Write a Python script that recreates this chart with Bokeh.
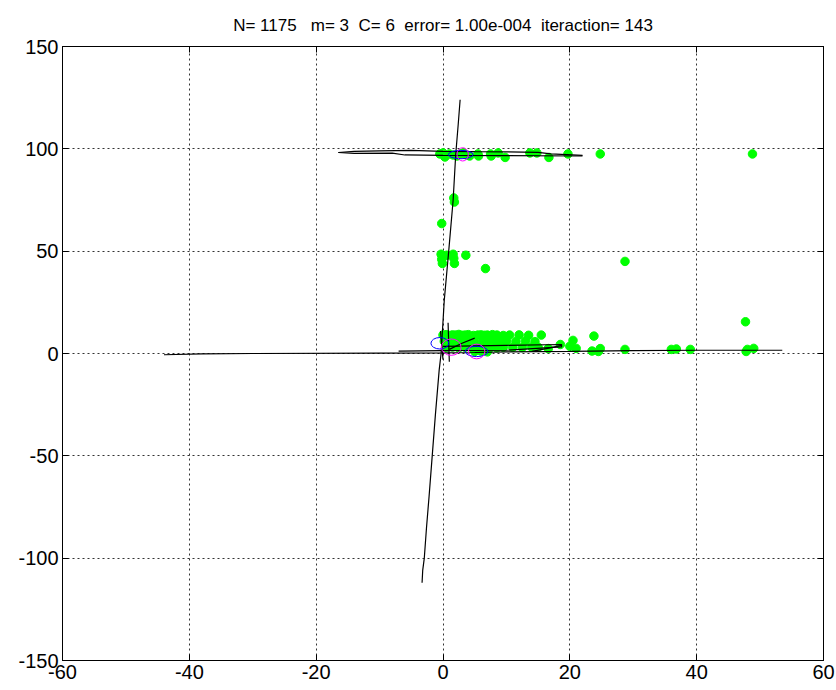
from bokeh.plotting import figure
from bokeh.models import LinearAxis, FixedTicker, Range1d
from bokeh.embed import file_html
from bokeh.resources import INLINE

title_text = "N= 1175\u00a0\u00a0\u00a0m= 3\u00a0\u00a0C= 6\u00a0\u00a0error= 1.00e-004\u00a0\u00a0iteraction= 143"
x_ticks = [-60, -40, -20, 0, 20, 40, 60]
y_ticks = [-150, -100, -50, 0, 50, 100, 150]

# green data points
pts_x = [-0.5, 0.0, 0.3, 1.0, 1.6, 2.2, 2.7, 3.2, 3.7, 4.2, 5.5, 5.6, 7.5, 7.6, 8.7, 9.8, 13.7, 14.8, 16.7, 19.7, 24.8, 48.8,
         -0.2, 1.7, 1.8, -0.3, -0.2, -0.1, 0.6, 1.6, 1.7, 1.8, 3.6, 6.7, 28.7,
         0.0, 0.5, 1.0, 1.5, 2.0, 2.5, 3.0, 3.5, 4.0, 4.8, 5.5, 6.0, 6.5, 7.0, 7.8, 8.5, 9.5, 10.5, 12.0, 13.5, 15.5,
         0.2, 1.0, 2.0, 3.0, 4.0, 5.0, 6.3, 7.0, 8.0, 9.0, 10.0, 11.5, 13.0, 14.5, 18.5, 20.5, 23.8,
         0.5, 1.5, 2.5, 3.5, 4.5, 5.5, 6.5, 7.5, 8.5, 9.5, 11.0, 12.5, 14.0, 15.0, 16.6, 20.0, 21.0, 24.8, 28.7, 36.0, 36.8, 39.0, 48.0, 49.0,
         5.0, 6.0, 7.0, 23.5, 24.5, 47.8, 47.7]
pts_y = [97.5, 98.0, 96.0, 97.5, 97.0, 96.5, 97.5, 98.0, 97.0, 96.5, 97.5, 96.5, 97.5, 96.5, 98.0, 95.8, 98.0, 98.0, 95.8, 97.5, 97.5, 97.5,
         63.5, 76.0, 74.0, 48.5, 46.0, 44.0, 48.0, 48.5, 46.5, 44.0, 48.0, 41.5, 45.0,
         9.0, 9.2, 8.8, 9.1, 9.0, 9.3, 8.9, 9.0, 9.2, 8.8, 9.0, 9.1, 8.9, 9.0, 9.2, 9.0, 8.8, 9.0, 9.1, 8.9, 9.0,
         6.0, 5.5, 6.2, 5.8, 6.0, 5.6, 6.1, 5.8, 6.0, 5.7, 6.0, 5.9, 6.1, 5.8, 4.4, 6.4, 8.5,
         3.0, 3.2, 2.8, 3.1, 3.0, 2.9, 3.2, 3.0, 2.8, 3.1, 3.0, 2.9, 3.1, 3.0, 2.4, 3.5, 2.5, 2.4, 2.0, 2.0, 2.2, 2.0, 2.0, 2.5,
         1.0, 1.2, 0.8, 1.2, 1.0, 1.0, 15.5]

# black trajectory lines
l1_x = [-3.3, -3.2, -2.95, -2.6, -2.2, -1.7, -1.2, -0.6, -0.3, 0.2, 0.9, 1.6, 2.0, 2.4, 2.7]
l1_y = [-112, -106, -100, -85, -70, -50, -30, -8, 0, 26, 50, 75, 97, 112, 124]
l2_x = [-16.5, -14, -10, -5, 0, 5, 10, 15, 17, 22]
l2_y = [98.2, 98.8, 99.0, 99.2, 98.8, 98.6, 98.5, 98.3, 97.5, 96.8]
l3_x = [-16.5, -14, -8, -6, 0, 10, 22]
l3_y = [98.2, 97.8, 97.9, 97.0, 96.8, 96.7, 96.5]
l4_x = [-44, -38, -30, -10, 0, 5, 10, 20, 30, 40, 53.5]
l4_y = [-0.6, -0.2, 0.0, 0.2, 0.3, 0.5, 0.8, 1.0, 1.4, 1.6, 1.6]
l5_x = [-7, 0, 10, 18.7, 18.7, 10, 0]
l5_y = [1.2, 1.4, 1.6, 3.2, 4.4, 4.0, 3.5]
l6_x = [0.8, 0.9, 1.0]
l6_y = [15, 5, -4]
l7_x = [-0.4, -0.2, 0.0]
l7_y = [11, 4, -3]
l8_x = [1.0, 3.0, 5.0]
l8_y = [2.0, 5.0, 7.5]
l9_x = [14.0, 16.5, 18.7]
l9_y = [1.0, 2.5, 4.0]

# cluster contours (ellipses)
blue_x = [2.8, -0.5, 5.3]
blue_y = [97.2, 5.0, 1.0]
blue_w = [3.9, 2.8, 3.6]
blue_h = [4.1, 5.6, 5.0]
mag_x = [3.1, 1.3, 5.3]
mag_y = [97.3, 3.1, 1.0]
mag_w = [1.8, 3.1, 2.6]
mag_h = [6.5, 8.0, 7.2]

FONT = "Liberation Sans"

p = figure(width=836, height=686, output_backend="svg", toolbar_location=None,
           x_range=Range1d(-60, 60), y_range=Range1d(-150, 150),
           min_border_left=62, min_border_right=13, min_border_top=46, min_border_bottom=26,
           x_axis_location=None, y_axis_location=None)
p.title.text = title_text
p.title.align = "center"
p.title.text_font = FONT
p.title.text_font_size = "17px"
p.title.text_font_style = "normal"
p.title.text_color = "black"
p.title.standoff = 23

for side in ["below", "left", "above", "right"]:
    ticks = x_ticks if side in ("below", "above") else y_ticks
    ax = LinearAxis(ticker=FixedTicker(ticks=ticks))
    ax.major_tick_in = 6
    ax.major_tick_out = 0
    ax.minor_tick_in = 0
    ax.minor_tick_out = 0
    ax.axis_line_color = "black"
    ax.major_tick_line_color = "black"
    ax.major_label_text_font = FONT
    ax.major_label_text_font_size = "20px"
    ax.major_label_text_color = "black"
    ax.major_label_standoff = 4
    ax.major_label_overrides = {t: str(t) for t in ticks}
    if side in ("above", "right"):
        ax.major_label_overrides = {t: "" for t in ticks}
        ax.major_label_text_font_size = "1px"
        ax.major_label_standoff = 0
    p.add_layout(ax, side)

p.xgrid.ticker = FixedTicker(ticks=x_ticks)
p.ygrid.ticker = FixedTicker(ticks=y_ticks)
for g in (p.xgrid, p.ygrid):
    g.grid_line_color = "black"
    g.grid_line_alpha = 0.8
    g.grid_line_dash = "2 3"
    g.grid_line_width = 1
p.outline_line_color = "black"

p.scatter(pts_x, pts_y, size=8.5, color="#00ff00", line_color="#00ff00")

for lx, ly in [(l1_x, l1_y), (l2_x, l2_y), (l3_x, l3_y), (l4_x, l4_y), (l5_x, l5_y),
               (l6_x, l6_y), (l7_x, l7_y), (l8_x, l8_y), (l9_x, l9_y)]:
    p.line(lx, ly, line_color="black", line_width=1.2)

p.ellipse(blue_x, blue_y, width=blue_w, height=blue_h, fill_alpha=0, line_color="blue", line_width=1)
p.ellipse(mag_x, mag_y, width=mag_w, height=mag_h, fill_alpha=0, line_color="magenta", line_width=1)

open("out.html", "w").write(file_html(p, INLINE))
